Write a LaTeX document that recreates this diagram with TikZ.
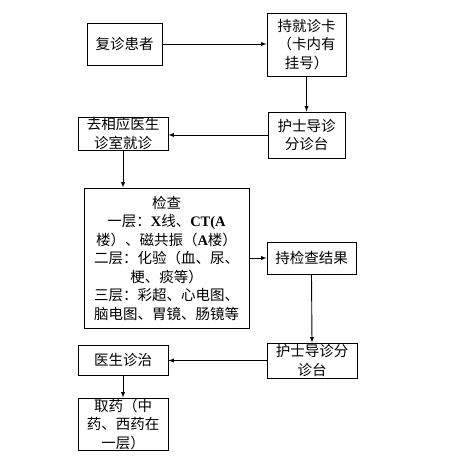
\documentclass[tikz,border=0pt]{standalone}
\usepackage{fontspec}
\setmainfont{Noto Sans CJK SC}
\newfontfamily\latf{Liberation Serif}
\newcommand{\LB}[1]{{\latf\bfseries #1}}
\tikzset{blk/.style={draw, line width=0.9pt, align=center, inner sep=0pt,
    font=\fontsize{14.5pt}{18.5pt}\selectfont}}

\begin{document}
\begin{tikzpicture}[x=1pt, y=-1pt, >=latex, line width=0.9pt]

  \useasboundingbox (0,0) rectangle (455,458);

  \node[blk, minimum width=75pt, minimum height=42pt] (fuzhen) at (124.5,44) {复诊患者};
  \node[blk, minimum width=79pt, minimum height=63pt] (chika) at (306.5,44.5) {持就诊卡\\（卡内有\\挂号）};
  \node[blk, minimum width=77pt, minimum height=46pt] (daozhen) at (306.5,135) {护士导诊\\分诊台};
  \node[blk, minimum width=90pt, minimum height=33pt] (zhenshi) at (123,133.5) {去相应医生\\诊室就诊};
  \node[blk, minimum width=165pt, minimum height=140pt] (jiancha) at (166.5,258)
    {检查\\一层：\LB{X}线、\LB{CT(A}\\楼）、磁共振（\LB{A}楼）\\二层：化验（血、尿、\\梗、痰等）\\三层：彩超、心电图、\\脑电图、胃镜、肠镜等};
  \node[blk, minimum width=89pt, minimum height=32pt] (jieguo) at (311.5,258) {持检查结果};
  \node[blk, minimum width=90pt, minimum height=35pt] (fenzhen) at (312,360.5) {护士导诊分\\诊台};
  \node[blk, minimum width=90pt, minimum height=30pt] (zhenzhi) at (123,360) {医生诊治};
  \node[blk, minimum width=90pt, minimum height=52pt] (quyao) at (123,424) {取药（中\\药、西药在\\一层）};

  \draw[->] (fuzhen.east) -- (fuzhen.east -| chika.west); %% 复诊 -> 持卡
  \draw[->] (chika.south) -- (daozhen.north);
  \draw[->] (daozhen.west) -- (daozhen.west -| zhenshi.east);
  \draw[->] (zhenshi.south) -- (zhenshi.south |- jiancha.north); %% 就诊 -> 检查
  \draw[->] (jiancha.east |- jieguo.west) -- (jieguo.west);
  \draw[->] (jieguo.south) -- (fenzhen.north);
  \draw[->] (fenzhen.west) -- (fenzhen.west -| zhenzhi.east);
  \draw[->] (zhenzhi.south) -- (quyao.north); %% 诊治 -> 取药

\end{tikzpicture}
\end{document}
